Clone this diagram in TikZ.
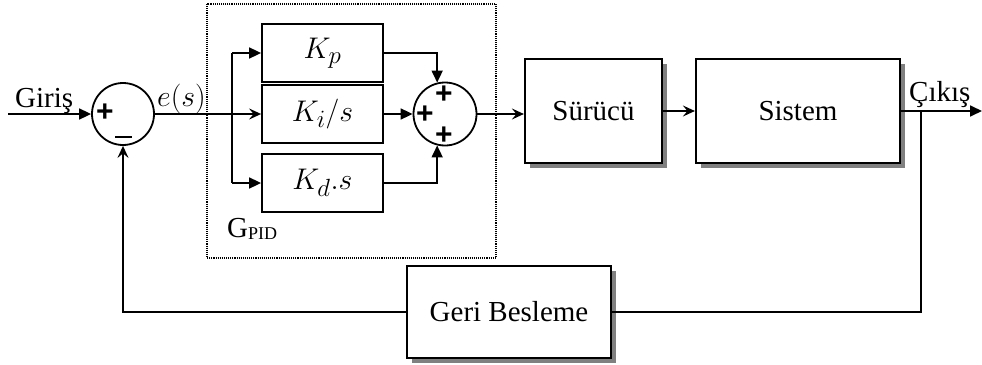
\documentclass[tikz,border=0pt]{standalone}
\usepackage{graphicx}
\usepackage{fontspec}
\setmainfont{Liberation Serif}
\newfontfamily\signfont{Liberation Sans}
\usetikzlibrary{arrows.meta,shadows}
\newcommand{\bigmath}[1]{\scalebox{1.2}{$#1$}}

\begin{document}
\begin{tikzpicture}[x=1pt,y=-1pt,
  every node/.style={font=\fontsize{29}{32}\selectfont},
  wire/.style={line width=1.7pt},
  fillarrow/.style={wire,-{Triangle[length=12pt,width=11pt]}},
  openarrow/.style={wire,-{Stealth[length=12pt,width=11pt,inset=4.5pt]}},
  gainbox/.style={draw,line width=1.8pt,minimum width=121pt,minimum height=58pt,inner sep=0pt},
  blockbox/.style={draw,fill=white,line width=2.2pt,inner sep=0pt,
    drop shadow={shadow xshift=4.5pt,shadow yshift=-4.5pt,fill=black!50,opacity=1}},
  sumnode/.style={draw,circle,line width=1.8pt,inner sep=0pt},
  sign/.style={inner sep=0pt,font=\signfont\bfseries\fontsize{30}{32}\selectfont},
  lbl/.style={inner sep=0pt,anchor=base west}]
\useasboundingbox (0,0) rectangle (982,364);

% PID group frame
\draw[densely dotted,line width=1.1pt] (207,4) rectangle (496,258);
\node[lbl] (gpid) at (227,237) {G\raisebox{-2pt}{\fontsize{18}{20}\selectfont PID}};

% summing junctions
\node[sumnode,minimum size=62pt] (c1) at (123,114) {};
\node[sign] (c1p) at (105,113) {+};
\node[sumnode,minimum size=63pt] (c2) at (445,114) {};
\node[sign] (c2t) at (444,95) {+};
\node[sign] (c2l) at (425,115) {+};
\node[sign] (c2b) at (444,136) {+};
\draw[line width=2.2pt] (115,137) -- (132,137) node[coordinate] (c1m) {};

% controller gains
\node[gainbox] (kp) at (322.5,53) {\bigmath{K_p}};
\node[gainbox] (ki) at (322.5,114) {\bigmath{K_i/s}};
\node[gainbox] (kd) at (322.5,183) {\bigmath{K_d.s}};

% plant chain and feedback
\node[blockbox,minimum width=137pt,minimum height=104pt] (sur) at (593.5,111) {Sürücü};
\node[blockbox,minimum width=204pt,minimum height=104pt] (sis) at (798,111) {Sistem};
\node[blockbox,minimum width=204pt,minimum height=92pt] (fbb) at (509,312) {Geri Besleme};

% signal labels
\node[lbl] (gir) at (15,107) {Giriş};
\node[lbl] (err) at (157,106) {\bigmath{e(s)}};
\node[lbl] (cik) at (909,101) {Çıkış};

% free ends and branch points
\coordinate (in) at (8,114);
\coordinate (bp) at (232,114);
\coordinate (out) at (982,111);
\coordinate (br) at (921,111);

% connectors
\draw[fillarrow] (in) -- (c1.west);
\draw[openarrow] (c1.east) -- (ki.west);
\draw[wire] (bp |- kp.west) -- (bp |- kd.west);
\draw[fillarrow] (bp |- kp.west) -- (kp.west);
\draw[fillarrow] (bp |- kd.west) -- (kd.west);
\draw[fillarrow] (kp.east) -| (c2.104);
\draw[fillarrow] (ki.east) -- (c2.west);
\draw[fillarrow] (kd.east) -| (c2.-104);
\draw[openarrow] (c2.east) -- (c2.east -| sur.west);
\draw[openarrow] (sur.east) -- (sis.west);
\draw[fillarrow] (sis.east) -- (out);
\draw[wire] (br) |- (fbb.east);
\draw[openarrow] (fbb.west) -| (c1.south);
\end{tikzpicture}
\end{document}
